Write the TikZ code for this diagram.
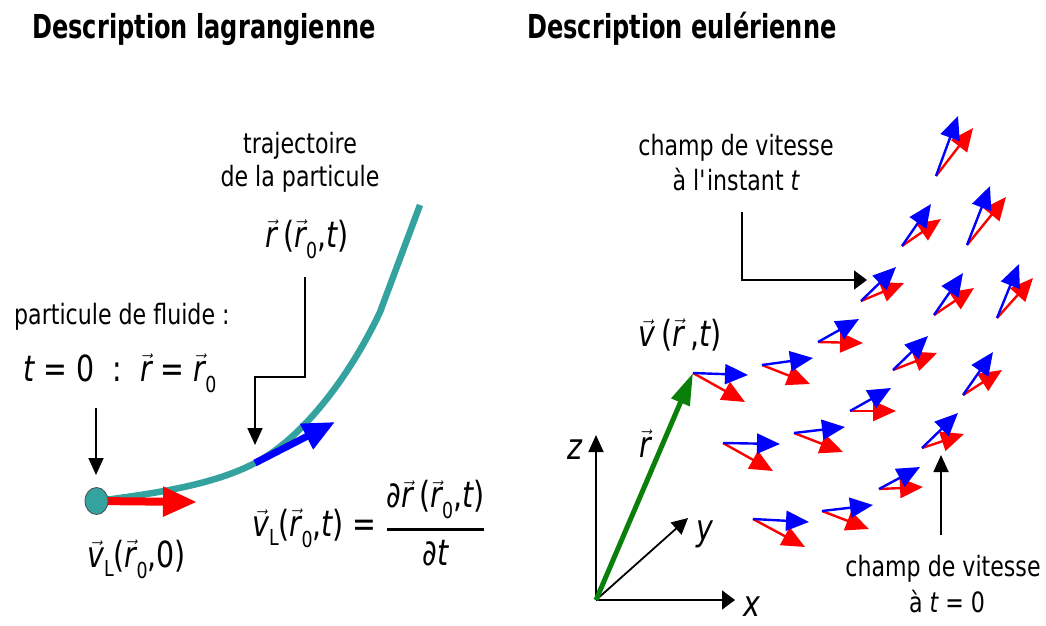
\documentclass[tikz,border=0pt]{standalone}
\usepackage{amsmath}
\usepackage{fontspec}
\setmainfont{DejaVu Sans}[FakeStretch=0.79]
\newfontfamily\titlefont{DejaVu Sans}[FakeStretch=0.73]
\usetikzlibrary{arrows.meta,shapes.geometric}
\definecolor{tealc}{RGB}{52,163,160}
\definecolor{greenc}{RGB}{10,128,10}
\newcommand\V[1]{\ensuremath{\vec{\text{\itshape #1}}}}
\newcommand\zs{\raisebox{-0.32em}{\fontsize{22}{22}\selectfont 0}}
\newcommand\Ls{\raisebox{-0.27em}{\fontsize{22}{22}\selectfont L}}
\newcommand\fv[3]{%
  \draw[fieldred] (#1) -- (#3);
  \draw[fieldblue] (#1) -- (#2);}
\begin{document}
\begin{tikzpicture}[x=1pt,y=-1pt,
  txt/.style={inner sep=0pt, font=\fontsize{28}{32}\selectfont},
  mth/.style={inner sep=0pt, font=\fontsize{36}{40}\selectfont},
  ttl/.style={inner sep=0pt, font=\titlefont\bfseries\fontsize{33}{38}\selectfont},
  blk/.style={line width=1.8pt, black},
  hV/.style={-{Triangle[length=17pt,width=15pt]}},
  hH/.style={-{Triangle[length=13pt,width=19pt]}},
  fieldred/.style={red, line width=2.4pt, -{Triangle[length=23pt,width=20pt]}},
  fieldblue/.style={blue, line width=2.4pt, -{Triangle[length=23pt,width=20pt]}}]
\useasboundingbox (0,0) rectangle (1046,625);

% titles
\node[ttl, anchor=base west] (t1) at (32,38) {Description lagrangienne};
\node[ttl, anchor=base west] (t2) at (527,38) {Description eulérienne};

% ---------- Lagrangian ----------
\node[txt, anchor=base] (tr1) at (300,153) {trajectoire};
\node[txt, anchor=base] (tr2) at (300,186) {de la particule};
\node[mth, anchor=base] (rl) at (307,247) {\V{r}\,(\V{r}\zs,{\itshape t})};
\node[txt, anchor=base west] (pf) at (14,324) {particule de fluide :};
\node[mth, anchor=base west] (t0) at (23,381) {{\itshape t} = 0~~:~~\V{r} = \V{r}\zs};
\node[mth, anchor=base west] (vl0) at (87,567) {\V{v}\Ls(\V{r}\zs,0)};
\node[mth, anchor=base west] (eq) at (252,536)
  {$\text{\V{v}\Ls(\V{r}\zs,{\itshape t}) = }\genfrac{}{}{3pt}{0}{\text{∂\V{r}\,(\V{r}\zs,{\itshape t})}}{\text{∂{\itshape t}}}$};

\coordinate (dotc) at (96.5,501);
\coordinate (k1) at (255,463);
\coordinate (k2) at (380,312);
\coordinate (trend) at (420,205);
\draw[tealc, line width=6.5pt] (dotc) .. controls (160,493) and (215,484) .. (k1)
   .. controls (300,440) and (348,380) .. (k2) -- (trend);
\coordinate (rtip) at (197,502);
\draw[red, line width=8pt, -{Triangle[length=34pt,width=28pt]}] (dotc) -- (rtip);
\coordinate (btip) at (335,422);
\draw[blue, line width=7pt, -{Triangle[length=32pt,width=27pt]}] (k1) -- (btip);
\node[ellipse, draw=black!70, line width=0.8pt, fill=tealc, minimum width=23pt, minimum height=27pt, inner sep=0pt] (dot) at (dotc) {};

\coordinate (a1) at (305,277);
\coordinate (a2) at (255,445);
\draw[blk, hV] (a1) -- ++(0,100) -| (a2);
\coordinate (p1) at (96,408);
\coordinate (p2) at (96,475);
\draw[blk, hV] (p1) -- (p2);

% ---------- Eulerian ----------
\node[txt, anchor=base] (c1) at (736,155) {champ de vitesse};
\node[txt, anchor=base] (c2) at (736,190) {à l\textquotesingle instant {\itshape t}};
\coordinate (b1) at (742,212);
\coordinate (b2) at (867,280);
\draw[blk, hH] (b1) |- (b2);

\coordinate (O) at (596,600);
\coordinate (zt) at (596,435);
\coordinate (xt) at (735,600);
\coordinate (yt) at (688,518);
\coordinate (gt) at (693,373);
\draw[blk, hV] (O) -- (zt);
\draw[blk, hH] (O) -- (xt);
\draw[blk, -{Triangle[length=16pt,width=16pt]}] (O) -- (yt);
\draw[greenc, line width=5pt, -{Triangle[length=32pt,width=19pt]}] (O) -- (gt);
\node[mth, anchor=base] (zl) at (575,459) {{\itshape z}};
\node[mth, anchor=base] (yl) at (705,540) {{\itshape y}};
\node[mth, anchor=base] (xl) at (752,616) {{\itshape x}};
\node[mth, anchor=base] (rr) at (645,457) {\V{r}};
\node[mth, anchor=base] (vr) at (680,346) {\V{v}\,(\V{r}\,,{\itshape t})};

\node[txt, anchor=base] (c3) at (943,576) {champ de vitesse};
\node[txt, anchor=base] (c4) at (947,612) {à {\itshape t} = 0};
\coordinate (u1) at (941,535);
\coordinate (u2) at (941,455);
\draw[blk, hV] (u1) -- (u2);

% velocity field
\fv{753,519}{809,522}{805,547}
\fv{822,511}{873,505}{869,529}
\fv{879,489}{920,467}{923,487}
\fv{922,448}{958,413}{964,434}
\fv{963,395}{993,352}{1002,370}
\fv{997,318}{1019,264}{1033,278}
\fv{723,443}{780,444}{773,471}
\fv{794,433}{845,427}{843,452}
\fv{850,411}{891,388}{896,411}
\fv{893,370}{928,336}{937,353}
\fv{934,315}{963,273}{974,288}
\fv{693,373}{748,375}{745,402}
\fv{762,365}{813,358}{810,384}
\fv{818,342}{859,319}{863,343}
\fv{861,301}{896,267}{904,283}
\fv{902,246}{931,204}{941,219}
\fv{936,176}{958,116}{973,128}
\fv{967,245}{990,186}{1006,197}
\end{tikzpicture}
\end{document}
